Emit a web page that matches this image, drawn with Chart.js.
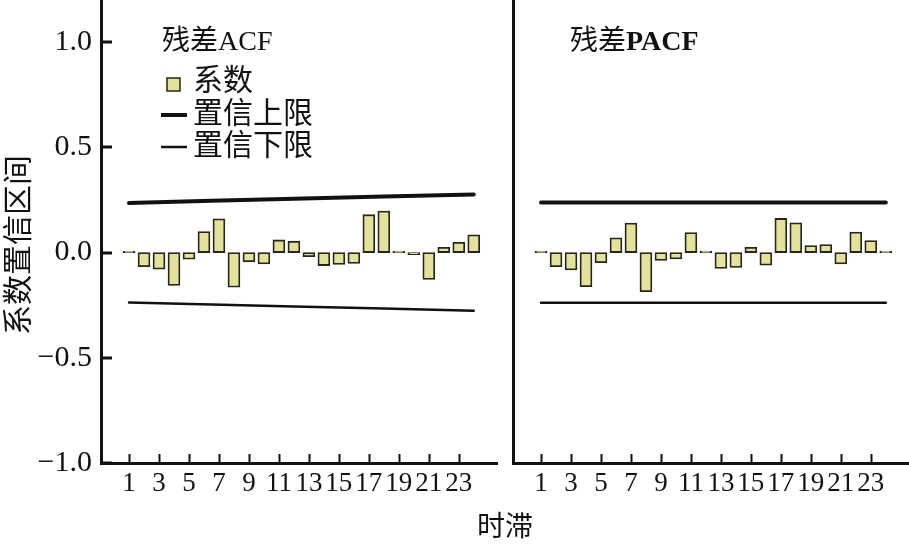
<!DOCTYPE html>
<html lang="zh">
<head>
<meta charset="utf-8">
<title>残差ACF / 残差PACF</title>
<script src="https://cdn.jsdelivr.net/npm/chart.js@4.4.1/dist/chart.umd.min.js"></script>
<style>
  body { margin: 0; background: #fff; }
  #wrap { position: relative; width: 909px; height: 547px; overflow: hidden; }
  canvas { position: absolute; top: 0; }
  #acf { left: 0; }
  #pacf { left: 505px; }
  #xtitle {
    position: absolute; left: 445px; top: 509px; width: 120px;
    text-align: center; font: 28px "Liberation Serif", "Noto Sans CJK SC", serif;
    line-height: 36px; color: #111;
  }
</style>
</head>
<body>
<div id="wrap">
  <canvas id="acf" width="505" height="547"></canvas>
  <canvas id="pacf" width="404" height="547"></canvas>
  <div id="xtitle">时滞</div>
</div>
<script>
// lags 1..24
var lags = [1, 2, 3, 4, 5, 6, 7, 8, 9, 10, 11, 12, 13, 14, 15, 16, 17, 18, 19, 20, 21, 22, 23, 24];

// residual ACF
var acfValues = [0.007, -0.067, -0.079, -0.156, -0.032, 0.10, 0.16, -0.165, -0.044, -0.054, 0.06, 0.054,
                 -0.02, -0.062, -0.057, -0.052, 0.18, 0.197, 0.007, -0.01, -0.128, 0.025, 0.049, 0.084];
// residual PACF
var pacfValues = [0.007, -0.067, -0.083, -0.162, -0.048, 0.07, 0.14, -0.186, -0.038, -0.03, 0.095, 0.007,
                  -0.076, -0.071, 0.025, -0.06, 0.162, 0.141, 0.033, 0.038, -0.054, 0.097, 0.057, 0.007];

// confidence bounds (read at a few lags)
var boundLags = [1, 12, 24];
var acfUpper = [0.235, 0.256, 0.276];
var acfLower = [-0.237, -0.256, -0.276];
var pacfUpper = [0.238, 0.238, 0.238];
var pacfLower = [-0.238, -0.238, -0.238];

var xTicks = [1, 3, 5, 7, 9, 11, 13, 15, 17, 19, 21, 23];
var yTicks = [-1, -0.5, 0, 0.5, 1];

var FONT = '"Liberation Serif", "Noto Sans CJK SC", serif';
var INK = '#111';
var barFill = '#e4e29a';
var barEdge = '#26261a';

function pts(xs, ys) {
    var out = [];
    for (var i = 0; i < xs.length; i++) out.push({x: xs[i], y: ys[i]});
    return out;
}

// tick marks pointing into the plot
var innerTicks = {
    id: 'innerTicks',
    afterDatasetsDraw: function (chart, args, opts) {
        var ctx = chart.ctx, xs = chart.scales.x, ys = chart.scales.y, a = chart.chartArea;
        ctx.save();
        ctx.strokeStyle = INK;
        ctx.lineWidth = 2;
        xTicks.forEach(function (v) {
            var x = Math.round(xs.getPixelForValue(v)) + 0.5;
            ctx.beginPath(); ctx.moveTo(x, a.bottom); ctx.lineTo(x, a.bottom - 9); ctx.stroke();
        });
        if (opts.yTicks) {
            ctx.lineWidth = 3;
            yTicks.forEach(function (v) {
                var y = Math.round(ys.getPixelForValue(v));
                ctx.beginPath(); ctx.moveTo(a.left, y); ctx.lineTo(a.left + 11, y); ctx.stroke();
            });
        }
        ctx.restore();
    }
};

// panel title, legend and y title
var panelText = {
    id: 'panelText',
    afterDraw: function (chart, args, opts) {
        var ctx = chart.ctx, ds = chart.data.datasets;
        ctx.save();
        ctx.fillStyle = INK;
        ctx.textBaseline = 'alphabetic';
        ctx.font = '28px ' + FONT;
        ctx.fillText(opts.titleCn, opts.titleX, 50);
        var w = ctx.measureText(opts.titleCn).width;
        ctx.font = (opts.boldLatin ? 'bold ' : '') + '28px ' + FONT;
        ctx.fillText(opts.titleEn, opts.titleX + w, 50);

        if (opts.legend) {
            ctx.font = '30px ' + FONT;
            ctx.textBaseline = 'middle';
            // bar swatch
            ctx.fillStyle = ds[0].backgroundColor;
            ctx.fillRect(167, 78, 13, 13);
            ctx.strokeStyle = ds[0].borderColor;
            ctx.lineWidth = 1.5;
            ctx.strokeRect(167, 78, 13, 13);
            ctx.fillStyle = INK;
            ctx.fillText(ds[0].label, 193, 82);
            // line swatches
            [[ds[1], 115], [ds[2], 147]].forEach(function (e) {
                ctx.strokeStyle = e[0].borderColor;
                ctx.lineWidth = e[0].borderWidth;
                ctx.beginPath(); ctx.moveTo(161, e[1]); ctx.lineTo(187, e[1]); ctx.stroke();
                ctx.fillText(e[0].label, 193, e[1]);
            });
        }
        if (opts.yTitle) {
            ctx.font = '30px ' + FONT;
            ctx.textAlign = 'center';
            ctx.textBaseline = 'middle';
            ctx.translate(20, 245);
            ctx.rotate(-Math.PI / 2);
            ctx.fillText(opts.yTitle, 0, 0);
        }
        ctx.restore();
    }
};

function makeChart(id, values, upper, lower, left) {
    return new Chart(document.getElementById(id), {
        type: 'bar',
        data: {
            datasets: [{
                label: '系数',
                data: pts(lags, values),
                backgroundColor: barFill,
                borderColor: barEdge,
                borderWidth: 1.8,
                borderSkipped: false,
                barThickness: 12
            }, {
                type: 'line',
                label: '置信上限',
                data: pts(boundLags, upper),
                borderColor: INK,
                borderWidth: 4,
                borderCapStyle: 'round',
                pointRadius: 0,
                tension: 0.3
            }, {
                type: 'line',
                label: '置信下限',
                data: pts(boundLags, lower),
                borderColor: INK,
                borderWidth: 2.5,
                borderCapStyle: 'round',
                pointRadius: 0,
                tension: 0.3
            }]
        },
        options: {
            responsive: false,
            animation: false,
            layout: {padding: {left: 0, right: left ? 8 : 0, top: 0, bottom: 0}},
            plugins: {
                legend: {display: false},
                tooltip: {enabled: false},
                innerTicks: {yTicks: left},
                panelText: left
                    ? {titleCn: '残差', titleEn: 'ACF', titleX: 162, boldLatin: false, legend: true, yTitle: '系数置信区间'}
                    : {titleCn: '残差', titleEn: 'PACF', titleX: 65, boldLatin: true, legend: false}
            },
            scales: {
                x: {
                    type: 'linear',
                    min: -0.87,
                    max: 25.55,
                    offset: false,
                    grid: {display: false, drawTicks: false},
                    border: {display: true, color: INK, width: 3},
                    afterBuildTicks: function (s) {
                        s.ticks = xTicks.map(function (v) { return {value: v}; });
                    },
                    afterFit: function (s) {
                        s.height = 84;
                        s.paddingLeft = 0;
                        s.paddingRight = 0;
                    },
                    ticks: {
                        autoSkip: false,
                        maxRotation: 0,
                        minRotation: 0,
                        padding: 5,
                        color: INK,
                        font: {family: FONT, size: 27}
                    }
                },
                y: {
                    min: -1,
                    max: 1.2,
                    grid: {display: false, drawTicks: false},
                    border: {display: true, color: INK, width: 3},
                    afterBuildTicks: function (s) {
                        s.ticks = yTicks.map(function (v) { return {value: v}; });
                    },
                    afterFit: function (s) {
                        s.width = left ? 101 : 8;
                        s.paddingTop = 0;
                        s.paddingBottom = 0;
                    },
                    ticks: {
                        display: left,
                        padding: 9,
                        color: INK,
                        font: {family: FONT, size: 30},
                        callback: function (v) {
                            return (v < 0 ? '\u2212' : '') + Math.abs(v).toFixed(1);
                        }
                    }
                }
            }
        },
        plugins: [innerTicks, panelText]
    });
}

makeChart('acf', acfValues, acfUpper, acfLower, true);
makeChart('pacf', pacfValues, pacfUpper, pacfLower, false);
</script>
</body>
</html>
